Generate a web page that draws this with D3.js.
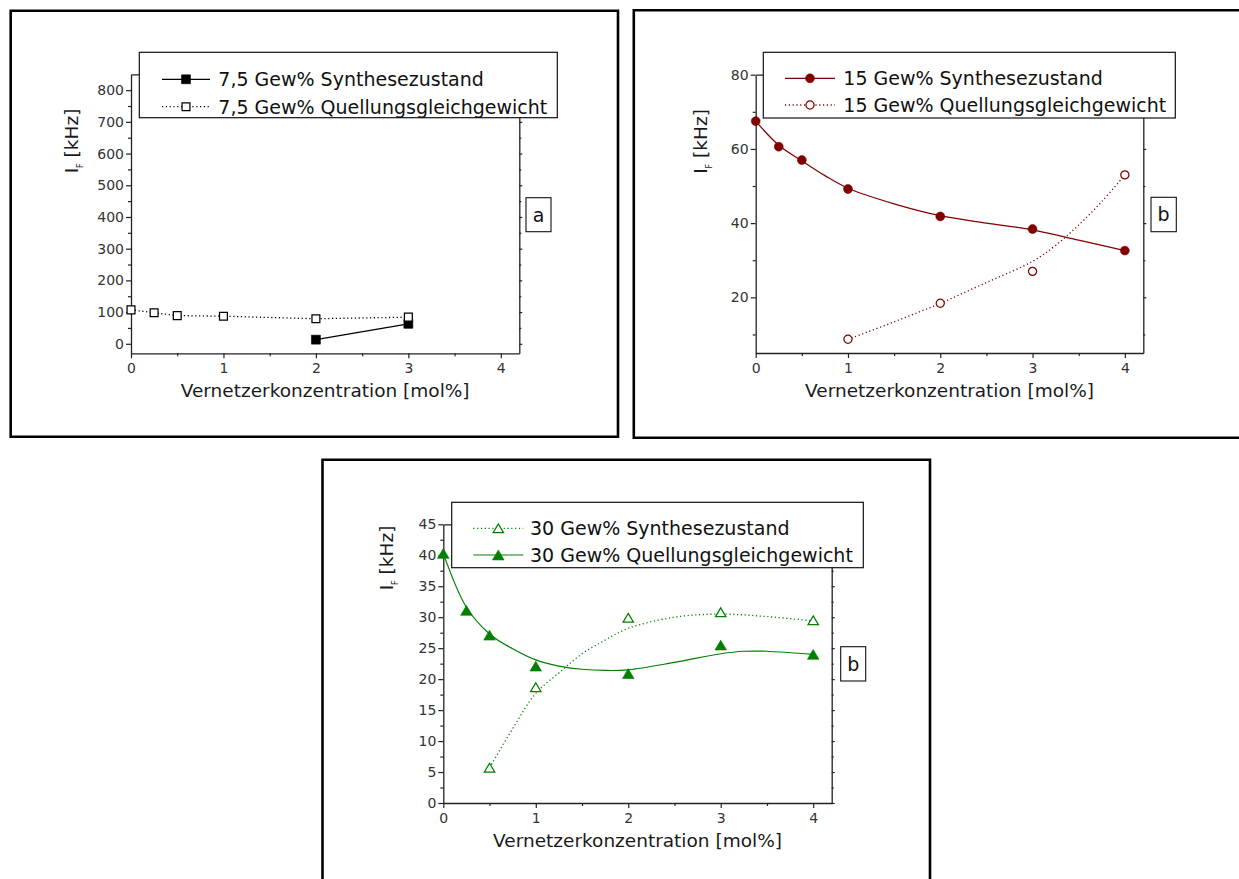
<!DOCTYPE html>
<html>
<head>
<meta charset="utf-8">
<script src="https://cdn.jsdelivr.net/npm/d3@7"></script>
<style>
  html, body { margin: 0; padding: 0; background: #fff; }
  svg { display: block; font-family: "DejaVu Sans", sans-serif; }
</style>
</head>
<body>
<svg id="fig" width="1239" height="879"></svg>
<script>
// ---- shared x axis ----
const xTickValues = [0, 1, 2, 3, 4];
const xMinorValues = [0.5, 1.5, 2.5, 3.5];
const xTitle = "Vernetzerkonzentration [mol%]";

// ---- (a) 7,5 Gew% ----
const aYTicks = [0, 100, 200, 300, 400, 500, 600, 700, 800];
const aYMinor = [50, 150, 250, 350, 450, 550, 650, 750];
const aSynX = [2, 3];
const aSynY = [13, 63];
const aQuellX = [0, 0.25, 0.5, 1, 2, 3];
const aQuellY = [107, 98, 89, 87, 79, 84];
const aLegend = ["7,5 Gew% Synthesezustand", "7,5 Gew% Quellungsgleichgewicht"];

// ---- (b) 15 Gew% ----
const bYTicks = [20, 40, 60, 80];
const bYMinor = [10, 30, 50, 70];
const bSynX = [0, 0.25, 0.5, 1, 2, 3, 4];
const bSynY = [67.5, 60.6, 57.0, 49.2, 41.8, 38.4, 32.6];
const bSynFitX = [0, 0.25, 0.5, 0.75, 1, 1.5, 2, 2.5, 3, 3.5, 4];
const bSynFitY = [67.5, 61.0, 56.8, 52.8, 49.4, 45.2, 42.0, 40.0, 38.2, 35.4, 32.6];
const bQuellX = [1, 2, 3, 4];
const bQuellY = [8.7, 18.4, 27.0, 53.0];
const bQuellFitX = [1, 1.5, 2, 2.5, 3, 3.25, 3.5, 3.75, 4];
const bQuellFitY = [8.7, 13.4, 18.4, 24.0, 29.7, 34.0, 39.5, 45.8, 53.0];
const bLegend = ["15 Gew% Synthesezustand", "15 Gew% Quellungsgleichgewicht"];

// ---- (c) 30 Gew% ----
const cYTicks = [0, 5, 10, 15, 20, 25, 30, 35, 40, 45];
const cYMinor = [2.5, 7.5, 12.5, 17.5, 22.5, 27.5, 32.5, 37.5, 42.5];
const cSynX = [0.5, 1, 2, 3, 4];
const cSynY = [5.7, 18.7, 29.9, 30.8, 29.5];
const cSynFitX = [0.5, 0.75, 1, 1.25, 1.5, 1.75, 2, 2.5, 3, 3.5, 4];
const cSynFitY = [5.7, 12.0, 17.7, 21.0, 24.1, 26.3, 28.2, 30.0, 30.5, 30.1, 29.4];
const cQuellX = [0, 0.25, 0.5, 1, 2, 3, 4];
const cQuellY = [40.3, 31.1, 27.1, 22.1, 20.9, 25.5, 24.0];
const cQuellFitX = [0, 0.25, 0.5, 0.75, 1, 1.25, 1.5, 1.75, 2, 2.5, 3, 3.25, 3.5, 4];
const cQuellFitY = [40.3, 31.6, 27.3, 24.9, 23.1, 22.1, 21.6, 21.4, 21.5, 22.7, 24.1, 24.5, 24.5, 24.0];
const cLegend = ["30 Gew% Synthesezustand", "30 Gew% Quellungsgleichgewicht"];

// ---- colours ----
const black = "#000000";
const darkRed = "#800000";
const green = "#008000";

const zip = (xs, ys) => xs.map((v, i) => [v, ys[i]]);

// triangle centred on its bounding box; size = base width
const symbolTri = {
  draw(ctx, w) {
    const h = w * 0.85;
    ctx.moveTo(0, -h / 2);
    ctx.lineTo(w / 2, h / 2);
    ctx.lineTo(-w / 2, h / 2);
    ctx.closePath();
  }
};
const markerDefs = {
  squareFilled: { type: d3.symbolSquare, size: 80, filled: true },
  squareOpen:   { type: d3.symbolSquare, size: 62, filled: false },
  circleFilled: { type: d3.symbolCircle, size: 62, filled: true },
  circleOpen:   { type: d3.symbolCircle, size: 52, filled: false },
  triFilled:    { type: symbolTri, size: 11.6, filled: true },
  triOpen:      { type: symbolTri, size: 10.4, filled: false }
};

function drawMarker(g, kind, color, cx, cy) {
  const m = markerDefs[kind];
  g.append("path")
    .attr("d", d3.symbol().type(m.type).size(m.size)())
    .attr("transform", `translate(${cx},${cy})`)
    .attr("fill", m.filled ? color : "#fff")
    .attr("stroke", color)
    .attr("stroke-width", m.filled ? 0.6 : 1.25);
}

function lineStyle(sel, dotted, color) {
  sel.attr("fill", "none").attr("stroke", color)
    .attr("stroke-width", dotted ? 1.3 : 1.2)
    .attr("stroke-dasharray", dotted ? "1.2,2.6" : null);
}

const svg = d3.select("#fig");

function drawPanel(p) {
  const g = svg.append("g");

  // outer frame
  g.append("path")
    .attr("d", `M${p.frame[0]},${p.frame[1]}H${p.frame[2]}V${p.frame[3]}H${p.frame[0]}Z`)
    .attr("fill", "none").attr("stroke", "#000").attr("stroke-width", 2.6);

  const x = d3.scaleLinear().domain([0, 4.2]).range([p.x0, p.x1]);
  const y = d3.scaleLinear().domain(p.yDomain).range([p.y1, p.y0]);

  const axes = g.append("g");
  const styleAxis = a => {
    a.selectAll("path.domain").attr("stroke", "#222").attr("stroke-width", 1.3);
    a.selectAll(".tick line").attr("stroke", "#222").attr("stroke-width", 1.2);
    a.selectAll(".tick text").attr("fill", "#333").attr("font-size", 14)
      .attr("font-family", "DejaVu Sans, sans-serif");
  };
  const noDomain = a => a.select("path.domain").remove();

  // bottom
  axes.append("g").attr("transform", `translate(0,${p.y1})`)
    .call(d3.axisBottom(x).tickValues(xTickValues).tickSize(5).tickPadding(5)
      .tickSizeOuter(0).tickFormat(d3.format("d")))
    .call(styleAxis);
  axes.append("g").attr("transform", `translate(0,${p.y1})`)
    .call(d3.axisBottom(x).tickValues(xMinorValues).tickSize(3).tickFormat(""))
    .call(styleAxis).call(noDomain);
  // top
  axes.append("g").attr("transform", `translate(0,${p.y0})`)
    .call(d3.axisTop(x).tickValues([]).tickSizeOuter(0))
    .call(styleAxis);
  // left
  axes.append("g").attr("transform", `translate(${p.x0},0)`)
    .call(d3.axisLeft(y).tickValues(p.yTicks).tickSize(5).tickPadding(2)
      .tickSizeOuter(0).tickFormat(d3.format("d")))
    .call(styleAxis);
  axes.append("g").attr("transform", `translate(${p.x0},0)`)
    .call(d3.axisLeft(y).tickValues(p.yMinor).tickSize(3).tickFormat(""))
    .call(styleAxis).call(noDomain);
  // right
  axes.append("g").attr("transform", `translate(${p.x1},0)`)
    .call(d3.axisRight(y).tickValues(p.yTicks).tickSize(3).tickSizeOuter(0).tickFormat(""))
    .call(styleAxis);
  axes.append("g").attr("transform", `translate(${p.x1},0)`)
    .call(d3.axisRight(y).tickValues(p.yMinor).tickSize(2).tickFormat(""))
    .call(styleAxis).call(noDomain);

  // axis titles
  g.append("text")
    .attr("x", (p.x0 + p.x1) / 2).attr("y", p.y1 + 44)
    .attr("text-anchor", "middle").attr("font-size", 18.5).attr("fill", "#1a1a1a")
    .text(xTitle);
  const yt = g.append("text")
    .attr("transform", `translate(${p.yTitle[0]},${p.yTitle[1]}) rotate(-90)`)
    .attr("text-anchor", "middle").attr("font-size", 18.5).attr("fill", "#1a1a1a");
  yt.append("tspan").text("I");
  yt.append("tspan").attr("font-size", 8).attr("dy", 5).text("F");
  yt.append("tspan").attr("dy", -5).text("\u00a0[kHz]");

  // series
  const line = d3.line().x(d => x(d[0])).y(d => y(d[1]));
  const curve = d3.line().x(d => x(d[0])).y(d => y(d[1])).curve(d3.curveCatmullRom.alpha(0.5));
  p.series.forEach(s => {
    const path = g.append("path")
      .attr("d", s.fit ? curve(s.fit) : line(s.points));
    lineStyle(path, s.dotted, p.color);
  });
  p.series.forEach(s => {
    s.points.forEach(d => drawMarker(g, s.marker, p.color, x(d[0]), y(d[1])));
  });

  // legend
  const L = p.legend;
  g.append("rect")
    .attr("x", L.box[0]).attr("y", L.box[1])
    .attr("width", L.box[2] - L.box[0]).attr("height", L.box[3] - L.box[1])
    .attr("fill", "#fff").attr("stroke", "#111").attr("stroke-width", 1.2);
  L.order.forEach((si, i) => {
    const s = p.series[si];
    const ry = L.rows[i];
    const seg = g.append("path").attr("d", `M${L.sample[0]},${ry}H${L.sample[1]}`);
    lineStyle(seg, s.dotted, p.color);
    drawMarker(g, s.marker, p.color, (L.sample[0] + L.sample[1]) / 2, ry);
    g.append("text").attr("x", L.textX).attr("y", ry + 6.8)
      .attr("font-size", 19).attr("fill", "#111").text(s.label);
  });

  // panel tag
  const T = p.tag;
  g.append("rect")
    .attr("x", T.box[0]).attr("y", T.box[1])
    .attr("width", T.box[2] - T.box[0]).attr("height", T.box[3] - T.box[1])
    .attr("fill", "#fff").attr("stroke", "#111").attr("stroke-width", 1.1);
  g.append("text")
    .attr("x", (T.box[0] + T.box[2]) / 2).attr("y", (T.box[1] + T.box[3]) / 2 + 6.8)
    .attr("text-anchor", "middle").attr("font-size", 19).attr("fill", "#111").text(T.text);
}

drawPanel({
  frame: [10.7, 10.7, 618, 436.8],
  x0: 131, x1: 519.3, y0: 74.3, y1: 353.3,
  yDomain: [-30, 850], yTicks: aYTicks, yMinor: aYMinor,
  yTitle: [78.3, 141],
  color: black,
  series: [
    { label: aLegend[0], points: zip(aSynX, aSynY), marker: "squareFilled", dotted: false },
    { label: aLegend[1], points: zip(aQuellX, aQuellY), marker: "squareOpen", dotted: true }
  ],
  legend: { box: [139.3, 52.3, 557.3, 117.7], sample: [162, 210], textX: 218.3, rows: [79.3, 106.7], order: [0, 1] },
  tag: { box: [526, 197.7, 551, 231.7], text: "a" }
});

drawPanel({
  frame: [633.8, 10.2, 1250, 437.8],
  x0: 755.7, x1: 1143.3, y0: 74.7, y1: 353,
  yDomain: [5, 80], yTicks: bYTicks, yMinor: bYMinor,
  yTitle: [706.7, 141.5],
  color: darkRed,
  series: [
    { label: bLegend[0], points: zip(bSynX, bSynY), fit: zip(bSynFitX, bSynFitY), marker: "circleFilled", dotted: false },
    { label: bLegend[1], points: zip(bQuellX, bQuellY), fit: zip(bQuellFitX, bQuellFitY), marker: "circleOpen", dotted: true }
  ],
  legend: { box: [763.3, 52.3, 1175.3, 118], sample: [785, 835], textX: 843.3, rows: [78.3, 105], order: [0, 1] },
  tag: { box: [1151, 197.3, 1176.3, 231.7], text: "b" }
});

drawPanel({
  frame: [322.5, 459.8, 930, 890],
  x0: 443.3, x1: 831.7, y0: 524.3, y1: 803,
  yDomain: [0, 45], yTicks: cYTicks, yMinor: cYMinor,
  yTitle: [393.3, 558],
  color: green,
  series: [
    { label: cLegend[0], points: zip(cSynX, cSynY), fit: zip(cSynFitX, cSynFitY), marker: "triOpen", dotted: true },
    { label: cLegend[1], points: zip(cQuellX, cQuellY), fit: zip(cQuellFitX, cQuellFitY), marker: "triFilled", dotted: false }
  ],
  legend: { box: [451.7, 502.3, 863.3, 567.7], sample: [473.3, 523.3], textX: 530, rows: [528.3, 555], order: [0, 1] },
  tag: { box: [840.7, 646.7, 865.7, 681], text: "b" }
});
</script>
</body>
</html>
